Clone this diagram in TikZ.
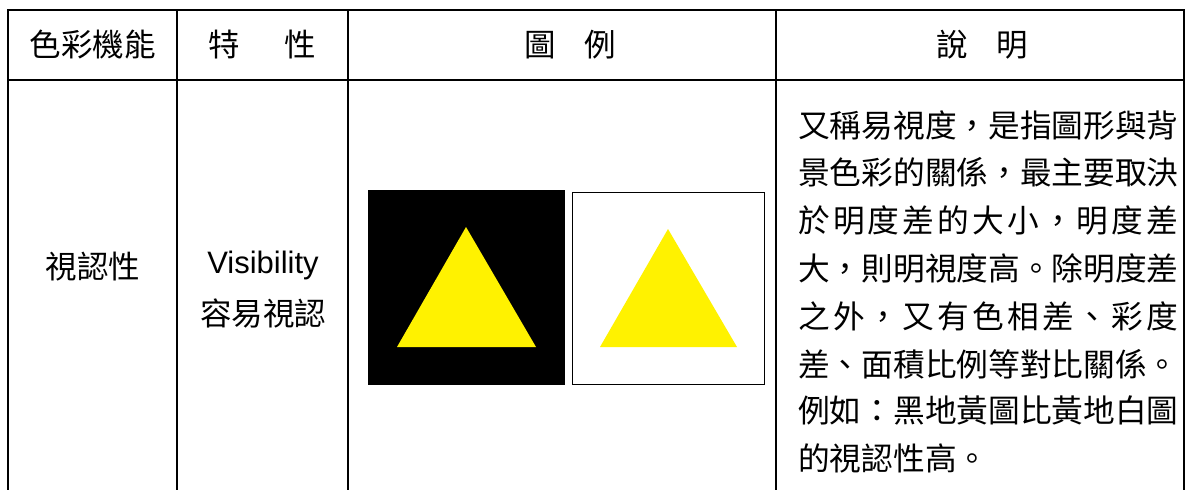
\documentclass[tikz,border=0pt]{standalone}
\usepackage{fontspec}
\setmainfont{Liberation Sans}
\newfontfamily\cjk{Noto Sans CJK TC}
\definecolor{tri}{HTML}{FFF200}
\newcommand\spreadline[1]{\makebox[380pt][s]{#1}}
\begin{document}
\begin{tikzpicture}[x=1pt,y=-1pt,
  grid/.style={line width=2pt,black},
  txt/.style={inner sep=0pt,font=\cjk\fontsize{31.5}{36}\selectfont},
  lat/.style={inner sep=0pt,font=\fontsize{31}{36}\selectfont},
  para/.style={inner sep=0pt,anchor=west,font=\cjk\fontsize{31.7}{36}\selectfont}]
\useasboundingbox (0,0) rectangle (1192,490);
\fill[white] (0,0) rectangle (1192,490);
% grid
\coordinate (tl) at (8,10);
\coordinate (tr) at (1184,10);
\coordinate (hl) at (8,80);
\coordinate (hr) at (1184,80);
\draw[grid] (8,490) -- (tl) -- (tr) -- (1184,490);
\draw[grid] (hl) -- (hr);
\draw[grid] (177,10) -- (177,490);
\draw[grid] (348,10) -- (348,490);
\draw[grid] (776,10) -- (776,490);
% header
\node[txt] (h1) at (93,45) {色彩機能};
\node[txt] (h2) at (262,45) {特\hspace{1.4em}性};
\node[txt] (h3) at (570,45) {圖\hspace{0.9em}例};
\node[txt] (h4) at (982,45) {說\hspace{0.9em}明};
% row
\node[txt] (c1) at (93,267) {視認性};
\node[lat] (c2a) at (263,265) {Visibility};
\node[txt] (c2b) at (263,313) {容易視認};
% example squares
\fill[black] (368,190) rectangle (565,385);
\fill[tri] (466,227) -- (536,347) -- (397,347) -- cycle;
\draw[line width=1pt] (572.5,192.5) rectangle (764,384);
\fill[tri] (668,229) -- (737,347) -- (600,347) -- cycle;
% description
\node[para] (d1) at (798,125) {又稱易視度，是指圖形與背};
\node[para] (d2) at (798,172) {景色彩的關係，最主要取決};
\node[para] (d3) at (798,220) {\spreadline{於\hfill 明\hfill 度\hfill 差\hfill 的\hfill 大\hfill 小\hfill ，\hfill 明\hfill 度\hfill 差}};
\node[para] (d4) at (798,268) {大，則明視度高。除明度差};
\node[para] (d5) at (798,316) {\spreadline{之\hfill 外\hfill ，\hfill 又\hfill 有\hfill 色\hfill 相\hfill 差\hfill 、\hfill 彩\hfill 度}};
\node[para] (d6) at (798,364) {差、面積比例等對比關係。};
\node[para] (d7) at (798,410) {例如：黑地黃圖比黃地白圖};
\node[para] (d8) at (798,458) {的視認性高。};
\end{tikzpicture}
\end{document}
